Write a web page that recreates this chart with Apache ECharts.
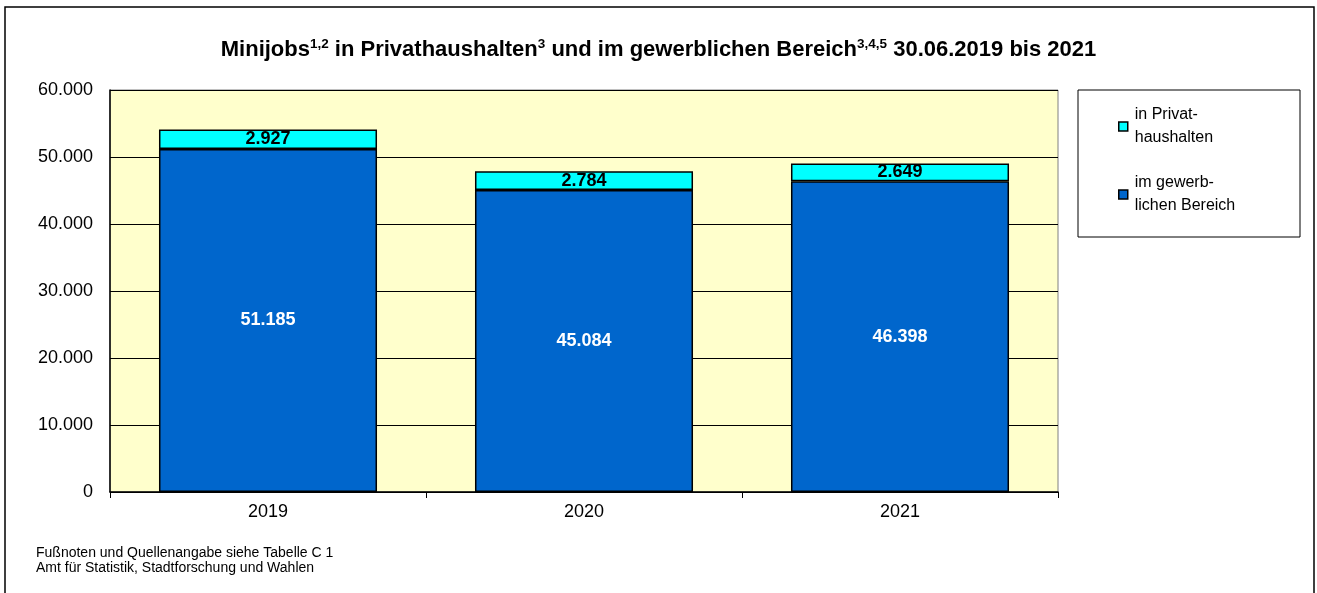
<!DOCTYPE html>
<html>
<head>
<meta charset="utf-8">
<script src="https://cdn.jsdelivr.net/npm/echarts@6/dist/echarts.min.js"></script>
<style>
  html, body { margin: 0; padding: 0; background: #fff; }
  #chart { width: 1317px; height: 593px; }
</style>
</head>
<body>
<div id="chart"></div>
<script>
const years = ["2019", "2020", "2021"];
const privat = [2927, 2784, 2649];
const gewerblich = [51185, 45084, 46398];
const yTicks = [0, 10000, 20000, 30000, 40000, 50000, 60000];

const fmt = (v) => String(v).replace(/\B(?=(\d{3})+(?!\d))/g, ".");
const font = "Arial, 'Liberation Sans', sans-serif";

const chart = echarts.init(document.getElementById("chart"));

const legendBase = {
  orient: "vertical",
  left: 1113,
  itemWidth: 9,
  itemHeight: 9,
  itemGap: 0,
  icon: "rect",
  selectedMode: false,
  textStyle: {
    fontFamily: font,
    fontSize: 16,
    color: "#000",
    lineHeight: 23,
    padding: [23, 0, 0, 2],
  },
};

chart.setOption({
  animation: false,
  backgroundColor: "#fff",
  textStyle: { fontFamily: font },
  title: {
    text: "{t|Minijobs}{s|1,2}{t| in Privathaushalten}{s|3}{t| und im gewerblichen Bereich}{s|3,4,5}{t| 30.06.2019 bis 2021}",
    left: "center",
    top: 32,
    textStyle: {
      rich: {
        t: { fontFamily: font, fontSize: 22, fontWeight: "bold", color: "#000", lineHeight: 26 },
        s: { fontFamily: font, fontSize: 13.5, fontWeight: "bold", color: "#000", lineHeight: 14, verticalAlign: "top" },
      },
    },
  },
  legend: [
    Object.assign({}, legendBase, {
      top: 87,
      data: [{ name: "in Privathaushalten", itemStyle: { borderColor: "#000", borderWidth: 1.5 } }],
      formatter: () => "in Privat-\nhaushalten",
    }),
    Object.assign({}, legendBase, {
      top: 155,
      data: [{ name: "im gewerblichen Bereich", itemStyle: { borderColor: "#000", borderWidth: 1.5 } }],
      formatter: () => "im gewerb-\nlichen Bereich",
    }),
  ],
  grid: {
    left: 110,
    top: 90,
    width: 948,
    height: 402,
    show: true,
    backgroundColor: "#FFFFCC",
    borderColor: "#808080",
    borderWidth: 1,
  },
  xAxis: {
    type: "category",
    data: years,
    axisLine: { lineStyle: { color: "#000", width: 1.5 } },
    axisTick: { show: true, length: 6, lineStyle: { color: "#000" } },
    axisLabel: { color: "#000", fontSize: 18, fontFamily: font, margin: 11 },
  },
  yAxis: {
    type: "value",
    min: yTicks[0],
    max: yTicks[yTicks.length - 1],
    interval: 10000,
    axisLine: { show: true, lineStyle: { color: "#000", width: 1.5 } },
    axisTick: { show: false },
    axisLabel: { color: "#000", fontSize: 18, fontFamily: font, margin: 17, formatter: (v) => fmt(v) },
    splitLine: { lineStyle: { color: "#000", width: 1 } },
  },
  series: [
    {
      name: "im gewerblichen Bereich",
      type: "bar",
      stack: "total",
      barCategoryGap: "31%",
      data: gewerblich,
      itemStyle: { color: "#0066CC", borderColor: "#000", borderWidth: 1.5 },
      label: {
        show: true,
        position: "inside",
        color: "#fff",
        fontWeight: "bold",
        fontSize: 18,
        fontFamily: font,
        formatter: (p) => fmt(p.value),
      },
    },
    {
      name: "in Privathaushalten",
      type: "bar",
      stack: "total",
      barCategoryGap: "31%",
      data: privat,
      itemStyle: { color: "#00FFFF", borderColor: "#000", borderWidth: 1.5 },
      label: {
        show: true,
        position: "inside",
        color: "#000",
        fontWeight: "bold",
        fontSize: 18,
        fontFamily: font,
        formatter: (p) => fmt(p.value),
      },
    },
  ],
  graphic: [
    {
      type: "rect",
      shape: { x: 5, y: 7, width: 1309, height: 600 },
      style: { fill: "none", stroke: "#000", lineWidth: 1.5 },
      silent: true,
      z: -1,
    },
    {
      type: "rect",
      shape: { x: 1078, y: 90, width: 222, height: 147 },
      style: { fill: "none", stroke: "#000", lineWidth: 1 },
      silent: true,
    },
    {
      type: "text",
      left: 36,
      top: 545,
      style: {
        text: "Fußnoten und Quellenangabe siehe Tabelle C 1\nAmt für Statistik, Stadtforschung und Wahlen",
        fontFamily: font,
        fontSize: 14,
        lineHeight: 15.5,
        fill: "#000",
      },
    },
  ],
});
</script>
</body>
</html>
